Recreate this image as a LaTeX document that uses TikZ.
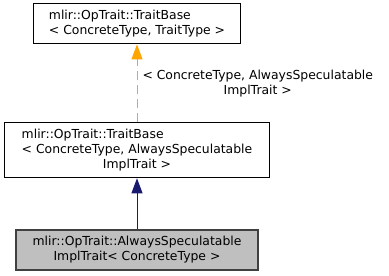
\documentclass[tikz,border=0pt]{standalone}
\usepackage{fontspec}
\setmainfont{DejaVu Sans}
\usetikzlibrary{arrows.meta, positioning}

\definecolor{edgeblue}{HTML}{191970}
\definecolor{edgeorange}{HTML}{FFA500}
\definecolor{boxgray}{HTML}{BFBFBF}
\definecolor{boxedge}{HTML}{404040}

\tikzset{
    classbox/.style={draw=black, line width=0.9pt, fill=white, inner xsep=12pt,
        inner ysep=4pt, font=\fontsize{12.4}{15}\selectfont},
    current/.style={classbox, draw=boxedge, fill=boxgray, line width=1.4pt},
    inherit/.style={draw=edgeblue, line width=1pt,
        -{Triangle[length=15pt, width=11pt, fill=edgeblue]}},
    templ/.style={draw=edgeorange, line width=1pt, dash pattern=on 9pt off 5pt,
        -{Triangle[length=15pt, width=11pt, fill=edgeorange]}}
}

\begin{document}
\begin{tikzpicture}[auto]
        \useasboundingbox (0,0) rectangle (389pt,276pt);

        \node (impl) [current, align=center, minimum width=242pt, minimum height=40pt]
            at (137pt,26pt) {mlir::OpTrait::AlwaysSpeculatable\\ImplTrait< ConcreteType >};
        \node (base) [classbox, minimum width=265pt, minimum height=55pt, above=51pt of impl]
            {\begin{tabular}{@{}l@{}}
                mlir::OpTrait::TraitBase\\
                < ConcreteType, AlwaysSpeculatable\\
                \multicolumn{1}{@{}c@{}}{ImplTrait >}
            \end{tabular}};
        \node (tmpl) [classbox, minimum width=207pt, minimum height=40pt, above=78pt of base]
            {\begin{tabular}{@{}l@{}}
                mlir::OpTrait::TraitBase\\
                < ConcreteType, TraitType >
            \end{tabular}};

        \path
        (impl) edge [inherit] (base)
        (base) edge [templ] node [swap, align=center, inner sep=5pt,
            font=\fontsize{12.4}{14.5}\selectfont]
            {< ConcreteType, AlwaysSpeculatable\\ImplTrait >} (tmpl);

    \end{tikzpicture}
\end{document}
